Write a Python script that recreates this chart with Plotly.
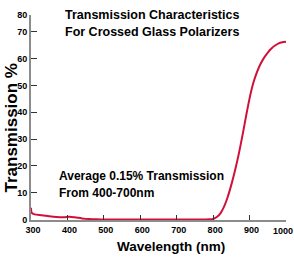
import plotly.graph_objects as go

wavelength = [300, 302, 310, 330, 350, 370, 390, 405, 420, 440, 460, 480, 500,
              550, 600, 650, 700, 750, 780, 790, 800, 810, 820, 830, 840, 850,
              860, 870, 880, 890, 900, 910, 920, 930, 940, 950, 960, 970, 980,
              990, 1000]
transmission = [4.4, 2.5, 1.9, 1.6, 1.2, 0.9, 0.8, 1.0, 0.8, 0.4, 0.15, 0.05, 0.0,
                0.0, 0.0, 0.0, 0.0, 0.0, 0.0, 0.05, 0.2, 0.9, 2.3, 4.8, 8.4, 13.0,
                18.3, 24.2, 31.0, 38.3, 45.2, 50.8, 54.9, 58.0, 60.4, 62.3, 63.8,
                64.9, 65.7, 66.1, 66.3]

x_ticks = [300, 400, 500, 600, 700, 800, 900, 1000]
x_tick_text = ["300", "400", "500", "600", "700", "800", "900", ""]
last_x_label = "1000"
y_tick_vals = [0, 10, 20, 30, 40, 50, 60, 70, 76.3]
y_tick_text = ["0", "10", "20", "30", "40", "50", "60", "70", "80"]

FONT = "Liberation Sans, Arial, sans-serif"
AXIS_GRAY = "#8c8c8c"
TICKFONT = dict(family=FONT, size=9, color="black", weight="bold")

fig = go.Figure()
fig.add_trace(go.Scatter(
    x=wavelength, y=transmission, mode="lines",
    line=dict(color="#d0103a", width=2, shape="spline", smoothing=0.8),
    hoverinfo="skip", showlegend=False, cliponaxis=False,
))

fig.update_layout(
    width=294, height=257,
    margin=dict(l=31, r=8, t=15, b=37),
    paper_bgcolor="white", plot_bgcolor="white",
    xaxis=dict(
        range=[300, 1000], tickvals=x_ticks, ticktext=x_tick_text,
        ticks="inside", ticklen=5, ticklabelshift=2,
        tickcolor="#333333", tickwidth=1, showline=True, linecolor=AXIS_GRAY,
        linewidth=2, showgrid=False, zeroline=False, automargin=False,
        ticklabeloverflow="allow", tickfont=TICKFONT,
    ),
    yaxis=dict(
        range=[-0.2, 76.3], tickvals=y_tick_vals, ticktext=y_tick_text,
        ticks="inside", ticklen=6, tickcolor="#333333", tickwidth=1,
        showline=True, linecolor=AXIS_GRAY, linewidth=2, showgrid=False,
        zeroline=False, automargin=False, ticklabeloverflow="allow",
        tickfont=TICKFONT,
    ),
)

def px_x(p):
    return (p - 31) / 255.0

def px_y(p):
    return (220 - p) / 205.0

# last x tick label, nudged left so it stays inside the picture
fig.add_annotation(
    text=last_x_label, xref="x", yref="paper", x=x_ticks[-1], xshift=-3,
    y=px_y(230.5), xanchor="center", yanchor="middle", showarrow=False,
    font=TICKFONT,
)

annots = [
    ("Transmission Characteristics", 63, 14.5, 12.5),
    ("For Crossed Glass Polarizers", 63, 32, 12.5),
    ("Average 0.15% Transmission", 56.5, 175.5, 12),
    ("From 400-700nm", 56.5, 193, 12),
]
for text, x, y, size in annots:
    fig.add_annotation(
        text=text, xref="paper", yref="paper", x=px_x(x), y=px_y(y),
        xanchor="left", yanchor="middle", showarrow=False,
        font=dict(family=FONT, size=size, color="black", weight="bold"),
    )

fig.add_annotation(
    text="Wavelength (nm)", xref="paper", yref="paper", x=px_x(171),
    y=px_y(246.5), xanchor="center", yanchor="middle", showarrow=False,
    font=dict(family=FONT, size=13.5, color="black", weight="bold"),
)
fig.add_annotation(
    text="Transmission %", xref="paper", yref="paper", x=px_x(10.5),
    y=px_y(128), xanchor="center", yanchor="middle", showarrow=False,
    textangle=-90,
    font=dict(family=FONT, size=17, color="black", weight="bold"),
)

fig.write_html("out.html")
